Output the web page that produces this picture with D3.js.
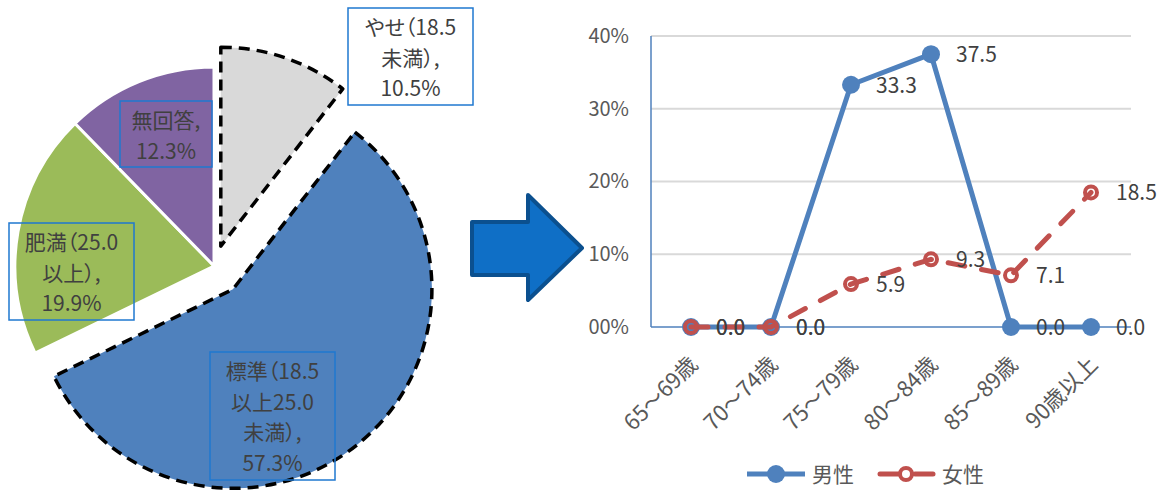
<!DOCTYPE html>
<html lang="ja">

<head>
  <meta charset='utf-8'>
  <script src='https://cdn.jsdelivr.net/npm/d3@7/dist/d3.min.js'></script>
  <style>
    body {
      margin: 0;
      background: #fff;
    }

    svg text {
      font-family: 'Noto Sans CJK JP', 'Noto Sans', sans-serif;
    }

    .pie-label {
      font-feature-settings: 'palt';
    }
  </style>
</head>

<body>
  <div id='chart'></div>
  <script>
    // Pie data: BMI groups (percent).
    var pieNames = ['やせ', '標準', '肥満', '無回答'];
    var pieValues = [10.5, 57.3, 19.9, 12.3];
    var pieLabelLines = [
      ['やせ（18.5', '未満）,', '10.5%'],
      ['標準（18.5', '以上25.0', '未満）,', '57.3%'],
      ['肥満（25.0', '以上）,', '19.9%'],
      ['無回答,', '12.3%']
    ];

    // Line chart data: share by age group (percent).
    var ageGroups = ['65～69歳', '70～74歳', '75～79歳', '80～84歳', '85～89歳', '90歳以上'];
    var maleValues = [0.0, 0.0, 33.3, 37.5, 0.0, 0.0];
    var femaleValues = [0.0, 0.0, 5.9, 9.3, 7.1, 18.5];
    var yTicks = [0, 10, 20, 30, 40];
    var yTickLabels = ['00%', '10%', '20%', '30%', '40%'];
    var seriesNames = ['男性', '女性'];

    var width = 1160,
      height = 492;

    var svg = d3.select('#chart')
      .append('svg')
      .attr('width', width)
      .attr('height', height);

    // ---- Pie ----

    var pieColors = ['#D9D9D9', '#4F81BD', '#9BBB59', '#8064A2'];
    var explode = [21, 30, 0, 0];
    var cx = 214,
      cy = 266,
      radius = 199;

    var pie = d3.pie().sort(null).value(function(d) {
      return d;
    });
    var arcs = pie(pieValues);
    var arc = d3.arc().innerRadius(0).outerRadius(radius);

    var pieG = svg.append('g')
      .attr('transform', 'translate(' + cx + ',' + cy + ')');

    // Draw the un-exploded slices first, dashed exploded ones on top.
    var order = [2, 3, 0, 1];
    order.forEach(function(i) {
      var a = arcs[i];
      var mid = (a.startAngle + a.endAngle) / 2;
      var dx = Math.sin(mid) * explode[i],
        dy = -Math.cos(mid) * explode[i];
      pieG.append('path')
        .attr('d', arc(a))
        .attr('transform', 'translate(' + dx + ',' + dy + ')')
        .attr('fill', pieColors[i])
        .attr('stroke', explode[i] ? '#000' : '#fff')
        .attr('stroke-width', explode[i] ? 3.5 : 3)
        .attr('stroke-dasharray', explode[i] ? '11,7' : null)
        .attr('stroke-linejoin', 'round');
    });

    // Label boxes (x, y, w, h) for each slice.
    var labelBoxes = [
      [348, 8, 125, 97],
      [210, 352, 125, 128],
      [9, 223, 125, 97],
      [120, 101, 92, 66]
    ];

    labelBoxes.forEach(function(b, i) {
      var g = svg.append('g');
      g.append('rect')
        .attr('x', b[0])
        .attr('y', b[1])
        .attr('width', b[2])
        .attr('height', b[3])
        .attr('fill', 'none')
        .attr('stroke', '#1F78D0')
        .attr('stroke-width', 1.5);
      g.selectAll('text')
        .data(pieLabelLines[i])
        .enter()
        .append('text')
        .attr('class', 'pie-label')
        .attr('x', b[0] + b[2] / 2)
        .attr('y', function(d, j) {
          return b[1] + 27 + j * 30.5;
        })
        .attr('text-anchor', 'middle')
        .attr('font-size', 21)
        .attr('fill', '#404040')
        .text(function(d) {
          return d;
        });
    });

    // ---- Arrow ----

    var arrowPts = [
      [472, 222], [528, 222], [528, 195], [582, 248],
      [528, 300], [528, 275], [472, 275]
    ];
    svg.append('path')
      .attr('d', d3.line()(arrowPts) + 'Z')
      .attr('fill', '#0F6FC6')
      .attr('stroke', '#0B508F')
      .attr('stroke-width', 4)
      .attr('stroke-linejoin', 'round');

    // ---- Line chart ----

    var plot = {
      left: 651,
      right: 1131,
      top: 36,
      bottom: 327
    };

    var xScale = d3.scaleBand()
      .domain(ageGroups)
      .range([plot.left, plot.right]);

    var yScale = d3.scaleLinear()
      .domain([0, 40])
      .range([plot.bottom, plot.top]);

    var xc = function(i) {
      return xScale(ageGroups[i]) + xScale.bandwidth() / 2;
    };

    // Gridlines.
    svg.append('g')
      .selectAll('line')
      .data(yTicks.slice(1))
      .enter()
      .append('line')
      .attr('x1', plot.left)
      .attr('x2', plot.right)
      .attr('y1', function(d) {
        return yScale(d);
      })
      .attr('y2', function(d) {
        return yScale(d);
      })
      .attr('stroke', '#D9D9D9')
      .attr('stroke-width', 2);

    // Y axis labels.
    var yAxis = svg.append('g')
      .attr('transform', 'translate(' + plot.left + ',0)')
      .call(d3.axisLeft(yScale)
        .tickValues(yTicks)
        .tickSize(0)
        .tickPadding(22)
        .tickFormat(function(d, i) {
          return yTickLabels[i];
        }));
    yAxis.select('.domain').remove();
    yAxis.selectAll('text')
      .attr('font-size', 20)
      .attr('fill', '#595959')
      .attr('font-family', null);

    // Axis lines.
    svg.append('line')
      .attr('x1', plot.left)
      .attr('x2', plot.left)
      .attr('y1', plot.top)
      .attr('y2', plot.bottom)
      .attr('stroke', '#4F81BD')
      .attr('stroke-width', 1.5);
    svg.append('line')
      .attr('x1', plot.left)
      .attr('x2', plot.right)
      .attr('y1', plot.bottom)
      .attr('y2', plot.bottom)
      .attr('stroke', '#4F81BD')
      .attr('stroke-width', 1.5);

    // X axis labels, rotated.
    var xAxis = svg.append('g')
      .attr('transform', 'translate(0,' + plot.bottom + ')')
      .call(d3.axisBottom(xScale).tickSize(0).tickPadding(0));
    xAxis.select('.domain').remove();
    xAxis.selectAll('text')
      .attr('font-family', null)
      .attr('font-size', 22)
      .attr('fill', '#595959')
      .attr('text-anchor', 'end')
      .attr('dy', 0)
      .attr('y', 0)
      .attr('transform', 'translate(8,39) rotate(-45)');

    var lineGen = d3.line()
      .x(function(d, i) {
        return xc(i);
      })
      .y(function(d) {
        return yScale(d);
      });

    // Male series.
    svg.append('path')
      .datum(maleValues)
      .attr('d', lineGen)
      .attr('fill', 'none')
      .attr('stroke', '#4F81BD')
      .attr('stroke-width', 5)
      .attr('stroke-linejoin', 'round');

    svg.append('g')
      .selectAll('circle')
      .data(maleValues)
      .enter()
      .append('circle')
      .attr('cx', function(d, i) {
        return xc(i);
      })
      .attr('cy', function(d) {
        return yScale(d);
      })
      .attr('r', 9)
      .attr('fill', '#4F81BD');

    // Female series.
    svg.append('path')
      .datum(femaleValues)
      .attr('d', lineGen)
      .attr('fill', 'none')
      .attr('stroke', '#C0504D')
      .attr('stroke-width', 5)
      .attr('stroke-linecap', 'round')
      .attr('stroke-dasharray', '17,17');

    svg.append('g')
      .selectAll('circle')
      .data(femaleValues)
      .enter()
      .append('circle')
      .attr('cx', function(d, i) {
        return xc(i);
      })
      .attr('cy', function(d) {
        return yScale(d);
      })
      .attr('r', 6)
      .attr('fill', 'none')
      .attr('stroke', '#C0504D')
      .attr('stroke-width', 4);

    // Data labels.
    function addLabels(values) {
      svg.append('g')
        .selectAll('text')
        .data(values)
        .enter()
        .append('text')
        .attr('x', function(d, i) {
          return xc(i) + 25;
        })
        .attr('y', function(d) {
          return yScale(d) + 8;
        })
        .attr('font-size', 21)
        .attr('fill', '#404040')
        .text(function(d) {
          return d.toFixed(1);
        });
    }
    addLabels(maleValues);
    addLabels(femaleValues);

    // Legend.
    var legendY = 474;
    var leg = svg.append('g');
    leg.append('line')
      .attr('x1', 747).attr('x2', 805)
      .attr('y1', legendY).attr('y2', legendY)
      .attr('stroke', '#4F81BD').attr('stroke-width', 5);
    leg.append('circle')
      .attr('cx', 776).attr('cy', legendY).attr('r', 9)
      .attr('fill', '#4F81BD');
    leg.append('text')
      .attr('x', 812).attr('y', legendY + 8)
      .attr('font-size', 21).attr('fill', '#595959')
      .text(seriesNames[0]);

    leg.append('line')
      .attr('x1', 880).attr('x2', 898)
      .attr('y1', legendY).attr('y2', legendY)
      .attr('stroke', '#C0504D').attr('stroke-width', 5)
      .attr('stroke-linecap', 'round');
    leg.append('line')
      .attr('x1', 915).attr('x2', 933)
      .attr('y1', legendY).attr('y2', legendY)
      .attr('stroke', '#C0504D').attr('stroke-width', 5)
      .attr('stroke-linecap', 'round');
    leg.append('circle')
      .attr('cx', 906).attr('cy', legendY).attr('r', 6)
      .attr('fill', '#fff')
      .attr('stroke', '#C0504D').attr('stroke-width', 4);
    leg.append('text')
      .attr('x', 942).attr('y', legendY + 8)
      .attr('font-size', 21).attr('fill', '#595959')
      .text(seriesNames[1]);
  </script>
</body>

</html>
